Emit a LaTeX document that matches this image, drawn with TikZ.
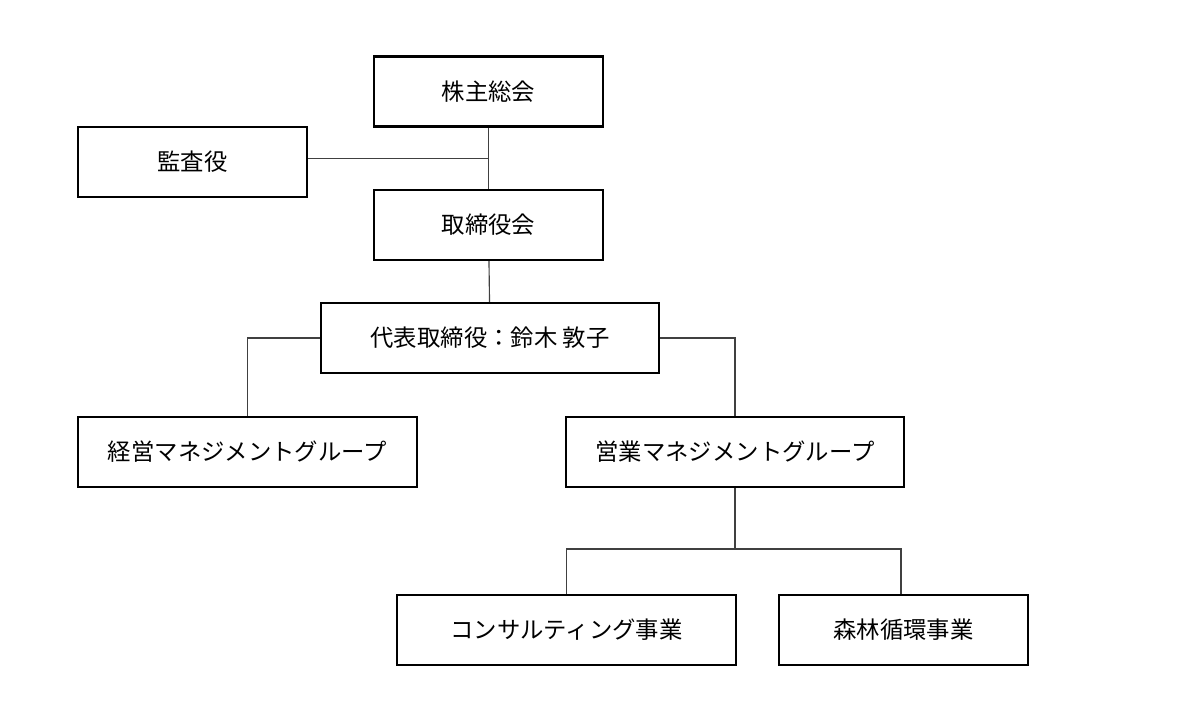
\documentclass[tikz,border=0pt]{standalone}
\usepackage{fontspec}
\setmainfont{Noto Sans CJK JP}
\usetikzlibrary{calc}

\tikzset{
  orgbox/.style={draw,line width=1.35pt,minimum height=1.4cm,inner sep=0pt,
    font=\fontsize{13.3}{15}\selectfont},
  orgline/.style={draw=black!75,line width=0.65pt}
}

\begin{document}
\begin{tikzpicture}[x=0.02cm,y=-0.02cm]
  \useasboundingbox (0,0) rectangle (1200,721);
  \node[orgbox,minimum width=4.58cm] (meeting) at (488.5,91.5) {株主総会};
  \node[orgbox,minimum width=4.58cm] (auditor) at (192.5,162) {監査役};
  \node[orgbox,minimum width=4.58cm] (board) at (488.5,225) {取締役会};
  \node[orgbox,minimum width=6.76cm] (ceo) at (490,338) {代表取締役：鈴木 敦子};
  \node[orgbox,minimum width=6.78cm] (admin) at (247.5,452) {経営マネジメントグループ};
  \node[orgbox,minimum width=6.76cm] (sales) at (735,452) {営業マネジメントグループ};
  \node[orgbox,minimum width=6.78cm] (consult) at (566.5,630) {コンサルティング事業};
  \node[orgbox,minimum width=4.98cm] (forest) at (903.5,630) {森林循環事業};

  \draw[orgline] (meeting) -- (board);
  \coordinate (mid) at ($(meeting.south)!0.5!(board.north)$);
  \draw[orgline] (auditor.east |- mid) -- (mid);
  \draw[orgline] (board) -- (ceo);
  \draw[orgline] (ceo.west) -| (admin.north);
  \draw[orgline] (ceo.east) -| (sales.north);
  % branch under sales
  \coordinate (split) at (735,549);
  \draw[orgline] (sales) -- (split);
  \draw[orgline] (consult.north) |- (split) -| ([xshift=-0.05cm]forest.north);
\end{tikzpicture}
\end{document}
